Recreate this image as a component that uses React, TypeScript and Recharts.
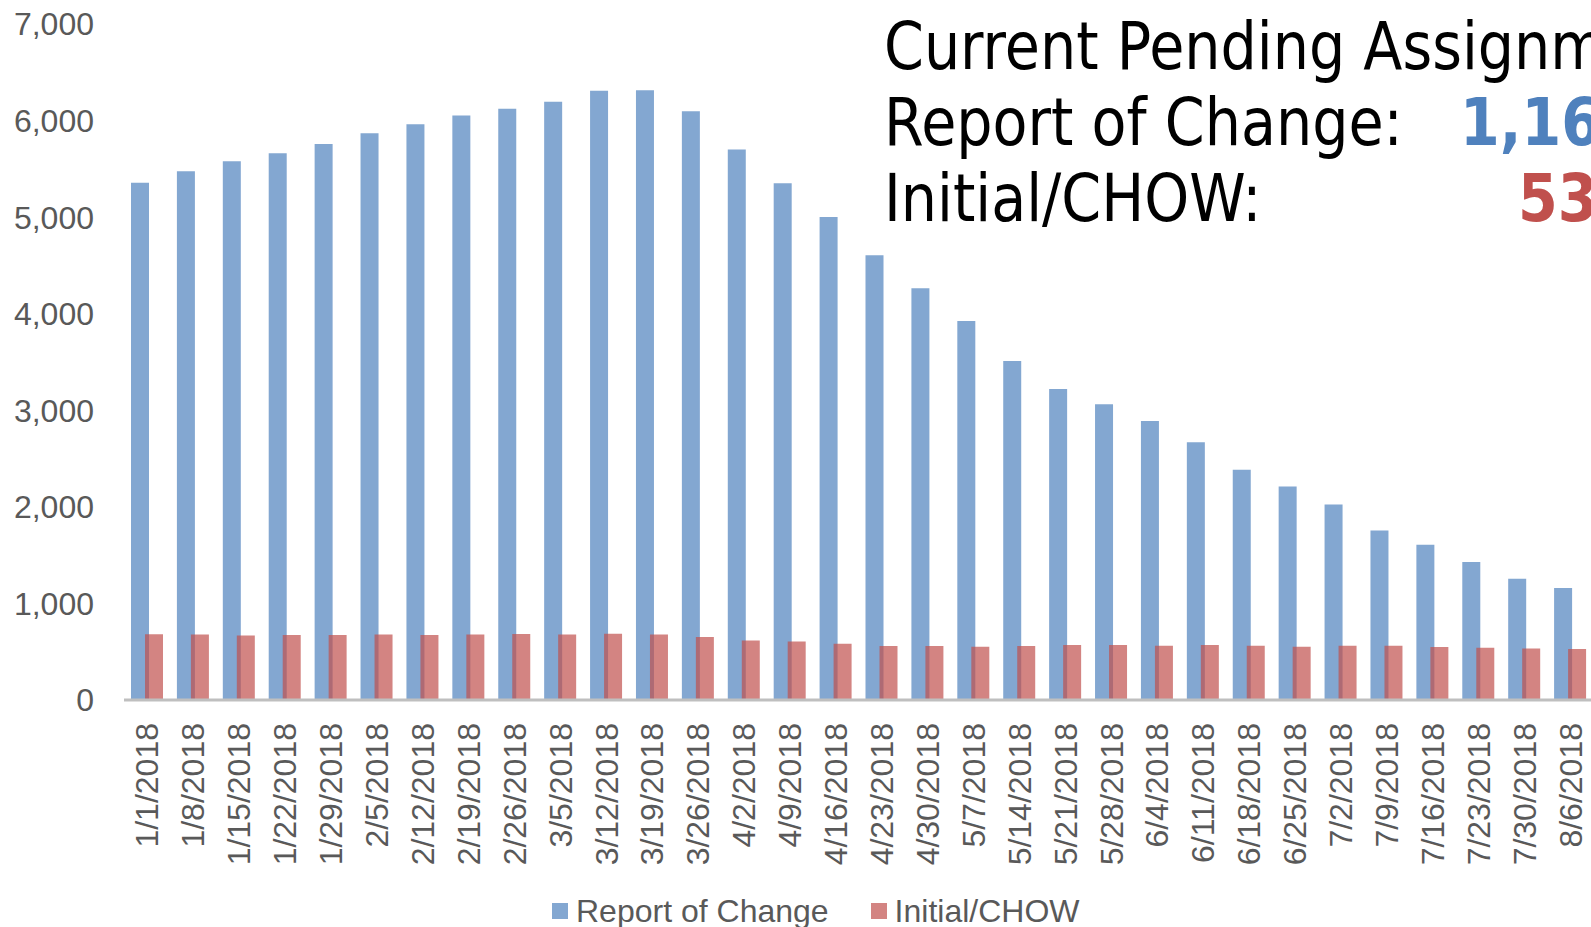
import { BarChart, Bar, XAxis, YAxis, Legend } from "recharts"

const dates = [
    "1/1/2018", "1/8/2018", "1/15/2018", "1/22/2018", "1/29/2018", "2/5/2018", "2/12/2018", "2/19/2018",
    "2/26/2018", "3/5/2018", "3/12/2018", "3/19/2018", "3/26/2018", "4/2/2018", "4/9/2018", "4/16/2018",
    "4/23/2018", "4/30/2018", "5/7/2018", "5/14/2018", "5/21/2018", "5/28/2018", "6/4/2018", "6/11/2018",
    "6/18/2018", "6/25/2018", "7/2/2018", "7/9/2018", "7/16/2018", "7/23/2018", "7/30/2018", "8/6/2018",
]

const reportOfChange = [
    5357, 5474, 5578, 5661, 5757, 5870, 5961, 6052,
    6122, 6196, 6309, 6313, 6096, 5700, 5351, 5002,
    4606, 4263, 3925, 3511, 3221, 3063, 2890, 2670,
    2383, 2211, 2025, 1756, 1607, 1428, 1255, 1160,
]

const initialChow = [
    680, 678, 667, 674, 674, 678, 674, 678,
    683, 678, 687, 678, 652, 617, 607, 583,
    560, 560, 552, 559, 569, 569, 562, 569,
    562, 552, 562, 562, 548, 541, 533, 528,
]

const yTicks = [0, 1000, 2000, 3000, 4000, 5000, 6000, 7000]
const seriesOrder = ["Report of Change", "Initial/CHOW"]

const BLUE = "#4F81BD"
const RED = "#C0504D"
const GREY_TEXT = "#595959"
const FONT = "'Liberation Sans', Arial, sans-serif"

const rows = dates.map((date, i) => ({
    date,
    roc: reportOfChange[i],
    chow: initialChow[i],
}))

const DateTick = ({ x, y, payload }: any) => (
    <text
        transform={`translate(${x},${y + 15}) rotate(-90)`}
        textAnchor="end"
        dy="0.36em"
        fill={GREY_TEXT}
        fontSize={32}
        fontFamily={FONT}
    >
        {payload.value}
    </text>
)

const LegendContent = ({ payload }: any) => {
    const items = [...(payload || [])].sort(
        (a: any, b: any) => seriesOrder.indexOf(a.value) - seriesOrder.indexOf(b.value)
    )
    return (
        <div style={{ display: "flex", alignItems: "center", fontFamily: FONT, fontSize: 32, lineHeight: "32px", color: GREY_TEXT, whiteSpace: "nowrap" }}>
            {items.map((entry: any, i: number) => (
                <div key={i} style={{ display: "flex", alignItems: "center", marginRight: i === 0 ? 42 : 0 }}>
                    <span style={{ display: "inline-block", width: 16, height: 16, background: entry.color, opacity: 0.7, marginRight: 8 }} />
                    <span>{entry.value}</span>
                </div>
            ))}
        </div>
    )
}

const App = () => {
    return (
        <div style={{ position: "fixed", left: 0, top: 0, width: 1591, height: 927, overflow: "hidden", background: "#fff" }}>
            <BarChart
                width={1593}
                height={927}
                data={rows}
                margin={{ top: 24, right: 0, bottom: 0, left: 0 }}
                barSize={18}
                barGap={-4}
            >
                <XAxis
                    dataKey="date"
                    interval={0}
                    height={227}
                    tickLine={false}
                    axisLine={{ stroke: "#BFBFBF", strokeWidth: 3 }}
                    tick={<DateTick />}
                />
                <YAxis
                    width={124}
                    domain={[0, 7000]}
                    ticks={yTicks}
                    axisLine={false}
                    tickLine={false}
                    tickMargin={24}
                    tickFormatter={(v: number) => v.toLocaleString("en-US")}
                    tick={{ fill: GREY_TEXT, fontSize: 32, fontFamily: FONT }}
                />
                <Legend
                    verticalAlign="middle"
                    align="center"
                    layout="horizontal"
                    wrapperStyle={{ left: 552, top: 895, width: "auto", height: 32 }}
                    content={<LegendContent />}
                />
                <Bar dataKey="roc" name="Report of Change" fill={BLUE} fillOpacity={0.7} isAnimationActive={false} />
                <Bar dataKey="chow" name="Initial/CHOW" fill={RED} fillOpacity={0.7} isAnimationActive={false} />
            </BarChart>
            <svg width={1591} height={240} style={{ position: "absolute", left: 0, top: 0, pointerEvents: "none" }}>
                <g fontFamily="'DejaVu Sans', Verdana, sans-serif" fontSize={66}>
                    <text transform="translate(884,69) scale(0.866,1)" fill="#000">Current Pending Assignments</text>
                    <text transform="translate(884,145) scale(0.866,1)" fill="#000">Report of Change:</text>
                    <text transform="translate(884,221) scale(0.866,1)" fill="#000">Initial/CHOW:</text>
                    <text transform="translate(1460,145) scale(0.866,1)" fill={BLUE} fontWeight="bold">1,16</text>
                    <text transform="translate(1518,221) scale(0.866,1)" fill={RED} fontWeight="bold">53</text>
                </g>
            </svg>
        </div>
    )
}

export default App
